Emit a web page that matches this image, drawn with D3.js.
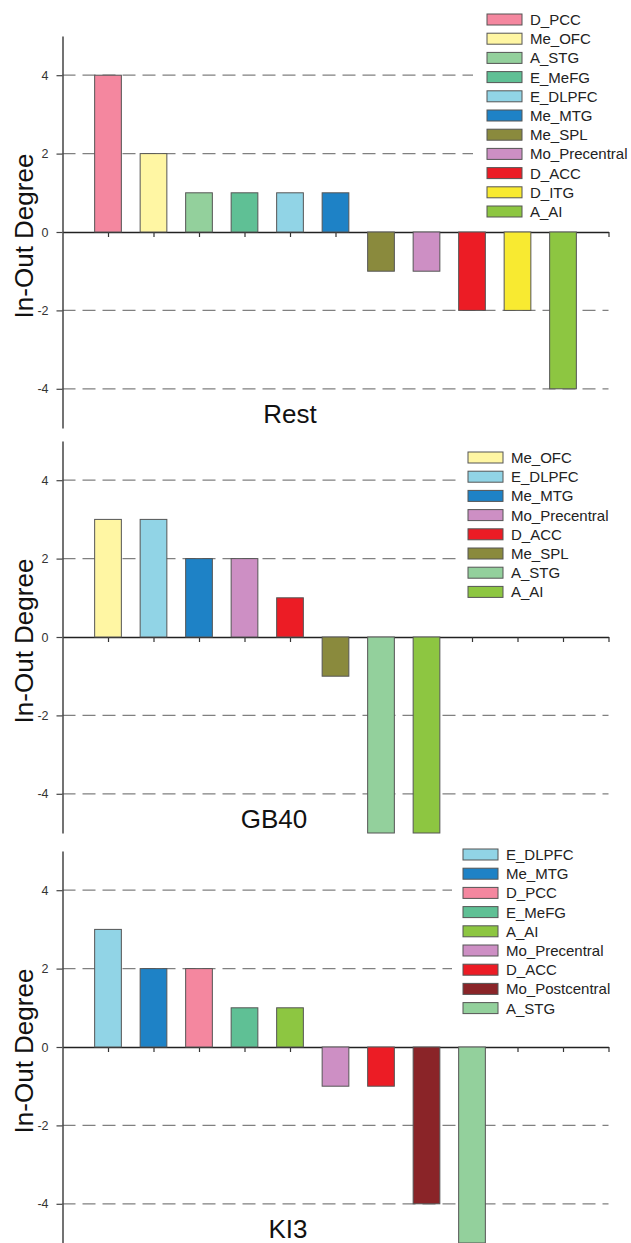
<!DOCTYPE html>
<meta charset="utf-8">
<head>
<title>In-Out Degree</title>
<script src="https://cdn.jsdelivr.net/npm/d3@7"></script>
<style>
body { margin: 0; background: #fff; }
svg { display: block; font-family: Arial, "Liberation Sans", sans-serif; }
.grid line { stroke: #808080; stroke-width: 1.2px; stroke-dasharray: 13,7; }
.bar { stroke: #555; stroke-width: 1px; }
</style>
</head>
<body>
<script>
// region colours
const regionNames = ["D_PCC", "Me_OFC", "A_STG", "E_MeFG", "E_DLPFC", "Me_MTG", "Me_SPL",
    "Mo_Precentral", "D_ACC", "D_ITG", "A_AI", "Mo_Postcentral"];
const regionColors = ["#f4879f", "#fff6a3", "#93d09c", "#5fc095", "#91d4e6", "#1e82c6", "#8a8a3d",
    "#cd8fc4", "#ec1c25", "#f8ea31", "#8dc641", "#8a2428"];

// data per condition
const restNames = ["D_PCC", "Me_OFC", "A_STG", "E_MeFG", "E_DLPFC", "Me_MTG", "Me_SPL",
    "Mo_Precentral", "D_ACC", "D_ITG", "A_AI"];
const restValues = [4, 2, 1, 1, 1, 1, -1, -1, -2, -2, -4];

const gb40Names = ["Me_OFC", "E_DLPFC", "Me_MTG", "Mo_Precentral", "D_ACC", "Me_SPL", "A_STG", "A_AI"];
const gb40Values = [3, 3, 2, 2, 1, -1, -5, -5];

const ki3Names = ["E_DLPFC", "Me_MTG", "D_PCC", "E_MeFG", "A_AI", "Mo_Precentral", "D_ACC",
    "Mo_Postcentral", "A_STG"];
const ki3Values = [3, 2, 2, 1, 1, -1, -1, -4, -5];

const yTicks = [-4, -2, 0, 2, 4];
const gridTicks = [-4, -2, 2, 4];
const xTicks = d3.range(1, 13);

const color = d3.scaleOrdinal().domain(regionNames).range(regionColors);

// layout of each panel
const panels = [
    {title: "Rest", names: restNames, values: restValues, top: 36, titleX: 290, legX: 487, legY: 14, bgX: 473},
    {title: "GB40", names: gb40Names, values: gb40Values, top: 441, titleX: 274, legX: 468, legY: 452, bgX: 457},
    {title: "KI3", names: ki3Names, values: ki3Values, top: 851, titleX: 288, legX: 463, legY: 849, bgX: 452}
];

const W = 631, H = 1243;
const plotH = 392;

const svg = d3.select("body").append("svg")
    .attr("width", W)
    .attr("height", H);

const x = d3.scaleLinear().domain([0, 12]).range([62.5, 608.5]);
const barW = x(0.587) - x(0);

panels.forEach(p => {
    const y = d3.scaleLinear().domain([-5, 5]).range([p.top + plotH, p.top]);
    const g = svg.append("g");

    // dashed gridlines
    g.append("g").attr("class", "grid")
        .selectAll("line")
        .data(gridTicks)
        .join("line")
        .attr("x1", x(0)).attr("x2", x(12))
        .attr("y1", d => y(d)).attr("y2", d => y(d));

    // legend background hides the gridlines behind it
    const rowH = 19.2;
    g.append("rect")
        .attr("x", p.bgX).attr("y", p.legY - 8)
        .attr("width", W - p.bgX).attr("height", p.names.length * rowH + 12)
        .attr("fill", "#fff");

    // zero line with ticks
    const xAxis = g.append("g")
        .attr("transform", `translate(0,${y(0)})`)
        .call(d3.axisBottom(x).tickValues(xTicks).tickSize(5).tickSizeOuter(0).tickFormat(""));
    xAxis.select(".domain").attr("stroke", "#222").attr("stroke-width", 1.6);
    xAxis.selectAll(".tick line").attr("stroke", "#333").attr("stroke-width", 1.2);

    // bars
    g.selectAll("rect.bar")
        .data(p.values)
        .join("rect")
        .attr("class", "bar")
        .attr("x", (d, i) => x(i + 1) - barW / 2)
        .attr("width", barW)
        .attr("y", d => Math.min(y(d), y(0)))
        .attr("height", d => Math.abs(y(d) - y(0)))
        .attr("fill", (d, i) => color(p.names[i]));

    // y axis
    const yAxis = g.append("g")
        .attr("transform", `translate(${x(0)},0)`)
        .call(d3.axisLeft(y).tickValues(yTicks).tickSize(6).tickSizeOuter(0).tickPadding(8)
            .tickFormat(d => String(d)));
    yAxis.select(".domain").attr("stroke", "#444").attr("stroke-width", 1.5);
    yAxis.selectAll(".tick line").attr("stroke", "#444").attr("stroke-width", 1.2);
    yAxis.selectAll(".tick text")
        .attr("fill", "#333")
        .style("font-size", "12.5px")
        .style("font-family", "Arial, 'Liberation Sans', sans-serif");

    // axis title
    g.append("text")
        .attr("transform", `translate(33,${y(0) + 4}) rotate(-90)`)
        .attr("text-anchor", "middle")
        .style("font-size", "26px")
        .attr("fill", "#111")
        .text("In-Out Degree");

    // panel title
    g.append("text")
        .attr("x", p.titleX)
        .attr("y", y(0) + 191)
        .attr("text-anchor", "middle")
        .style("font-size", "26px")
        .attr("fill", "#111")
        .text(p.title);

    // legend
    const leg = g.append("g");
    const rows = leg.selectAll("g")
        .data(p.names)
        .join("g")
        .attr("transform", (d, i) => `translate(${p.legX},${p.legY + i * rowH})`);
    rows.append("rect")
        .attr("width", 35).attr("height", 11)
        .attr("fill", d => color(d))
        .attr("stroke", "#555").attr("stroke-width", 1);
    rows.append("text")
        .attr("x", 43).attr("y", 11)
        .style("font-size", "15px")
        .attr("fill", "#222")
        .text(d => d);
});
</script>
</body>
</html>
